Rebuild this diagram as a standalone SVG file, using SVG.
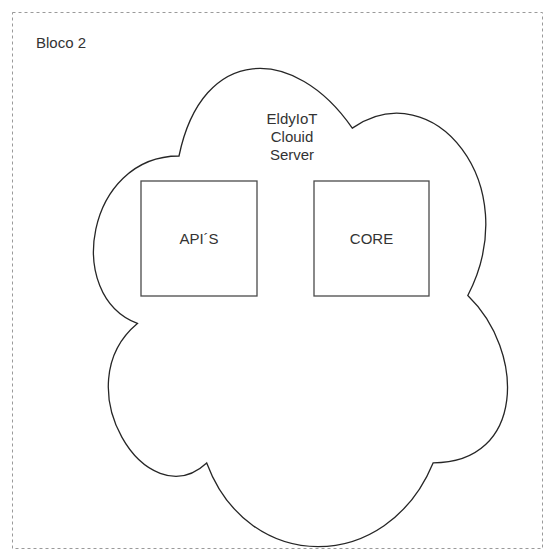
<svg xmlns="http://www.w3.org/2000/svg" width="544" height="552" viewBox="0 0 544 552">
  <style>
    .frame { fill: none; stroke: #9a9a9a; stroke-width: 1; stroke-dasharray: 3 3; }
    .cloud { fill: #ffffff; stroke: #262626; stroke-width: 1.3; }
    .box { fill: #ffffff; stroke: #4a4a4a; stroke-width: 1.3; }
    .lbl { font-family: "Liberation Sans", Arial, Helvetica, sans-serif; font-size: 15px; fill: #333333; }
    .mid { text-anchor: middle; }
  </style>
  <rect width="544" height="552" fill="#ffffff"/>
  <g id="bloco2">
    <rect class="frame" x="12.5" y="12.5" width="530" height="536"/>
    <text class="lbl" x="36" y="48">Bloco 2</text>
  </g>
  <g id="cloud">
    <path class="cloud" d="M 179 156 C 86.6 156 63.5 295.5 137.4 323.4 C 63.5 384.8 146.7 518.7 206.7 462.9 C 248.3 574.5 386.9 574.5 433.1 462.9 C 525.5 462.9 525.5 351.3 467.8 295.5 C 525.5 183.9 433.1 72.3 352.3 128.1 C 294.5 44.4 202.1 44.4 179 156 Z"/>
    <text class="lbl mid" x="292" y="124">EldyIoT</text>
    <text class="lbl mid" x="292" y="142">Clouid</text>
    <text class="lbl mid" x="292" y="160">Server</text>
  </g>
  <g id="apis">
    <rect class="box" x="141" y="181" width="116" height="115"/>
    <text class="lbl mid" x="199" y="244">API´S</text>
  </g>
  <g id="core">
    <rect class="box" x="314" y="181" width="115" height="115"/>
    <text class="lbl mid" x="371.5" y="244">CORE</text>
  </g>
  <g id="connectors"></g>
</svg>
